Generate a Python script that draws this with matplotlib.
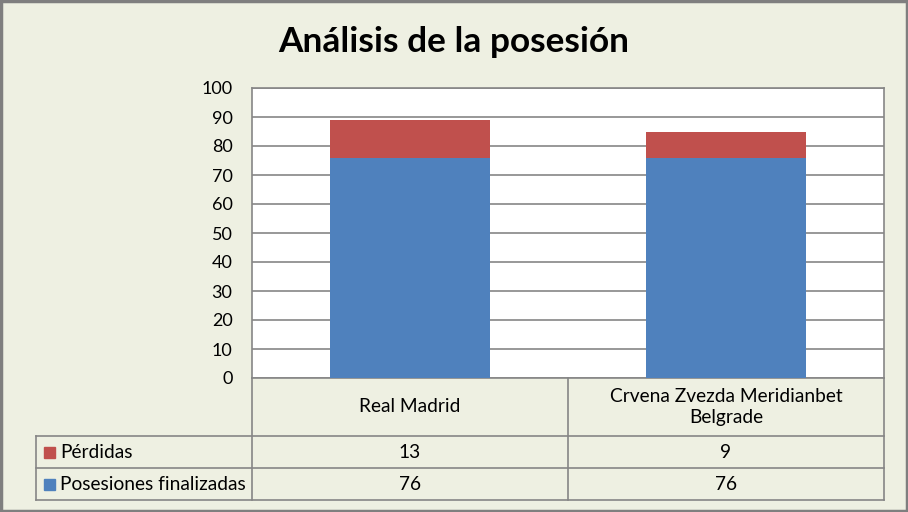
import matplotlib
matplotlib.use("Agg")
import matplotlib.pyplot as plt
from matplotlib.patches import Rectangle

categories = ["Real Madrid", "Crvena Zvezda Meridianbet\nBelgrade"]
series_names = ["Pérdidas", "Posesiones finalizadas"]
perdidas = [13, 9]
posesiones = [76, 76]
yticks = [0, 10, 20, 30, 40, 50, 60, 70, 80, 90, 100]

RED = "#C0504D"
BLUE = "#4F81BD"
BG = "#EEF0E2"
GRID = "#868686"
FONT = ["Lato", "DejaVu Sans"]

plt.rcParams['font.family'] = FONT

W, H = 908, 512
fig = plt.figure(figsize=(W / 100, H / 100), dpi=100)
fig.patch.set_facecolor(BG)

# geometry (pixels)
px0, px1 = 252, 884
py_top, py_bot = 88, 378

def fx(x):
    return x / W

def fy(y):
    return 1 - y / H

ax = fig.add_axes([fx(px0), fy(py_bot), (px1 - px0) / W, (py_bot - py_top) / H])
ax.set_facecolor("white")
x = list(range(len(categories)))
ax.bar(x, posesiones, width=0.507, color=BLUE, zorder=3)
ax.bar(x, perdidas, width=0.507, bottom=posesiones, color=RED, zorder=3)
ax.set_xlim(-0.5, len(categories) - 0.5)
ax.set_ylim(0, 100)
ax.set_yticks(yticks)
ax.set_yticklabels([str(v) for v in yticks], fontsize=13, color="black")
ax.set_xticks([])
ax.tick_params(axis='y', length=0, pad=14)
ax.yaxis.grid(True, color=GRID, linewidth=1.2, zorder=0)
for s in ax.spines.values():
    s.set_color(GRID)
    s.set_linewidth(1.2)

# overlay axes for table
ov = fig.add_axes([0, 0, 1, 1], facecolor="none")
ov.set_xlim(0, W)
ov.set_ylim(H, 0)
ov.axis("off")

lw = 1.2
col_w = (px1 - px0) / len(categories)
r0, r1, r2, r3 = 378, 436, 468, 500
tx0 = 36
TFS = 13.8
ov.plot([tx0, px1], [r1, r1], color=GRID, lw=lw)
ov.plot([tx0, px1], [r2, r2], color=GRID, lw=lw)
ov.plot([tx0, px1], [r3, r3], color=GRID, lw=lw)
ov.plot([px1, px1], [r0, r3], color=GRID, lw=lw)
ov.plot([px0, px0], [r0, r3], color=GRID, lw=lw)
ov.plot([tx0, tx0], [r1, r3], color=GRID, lw=lw)
for i in range(1, len(categories)):
    xc = px0 + i * col_w
    ov.plot([xc, xc], [r0, r3], color=GRID, lw=lw)

for i, c in enumerate(categories):
    xc = px0 + (i + 0.5) * col_w
    ov.text(xc, (r0 + r1) / 2, c, ha="center", va="center", fontsize=TFS, linespacing=1.25)
    ov.text(xc, (r1 + r2) / 2, str(perdidas[i]), ha="center", va="center", fontsize=TFS)
    ov.text(xc, (r2 + r3) / 2, str(posesiones[i]), ha="center", va="center", fontsize=TFS)

for name, col, (a, b) in [(series_names[0], RED, (r1, r2)), (series_names[1], BLUE, (r2, r3))]:
    yc = (a + b) / 2
    ov.add_patch(Rectangle((44, yc - 5.5), 11, 11, color=col))
    ov.text(60, yc, name, ha="left", va="center", fontsize=TFS)

ov.text(454, 42, "Análisis de la posesión", ha="center", va="center",
        fontsize=25.4, fontweight="bold")

# outer border
ov.add_patch(Rectangle((1, 1), W - 2.5, H - 2.5, fill=False, edgecolor="#7F7F7F", lw=2.5))

fig.savefig("out.png", dpi=100, facecolor=BG)
